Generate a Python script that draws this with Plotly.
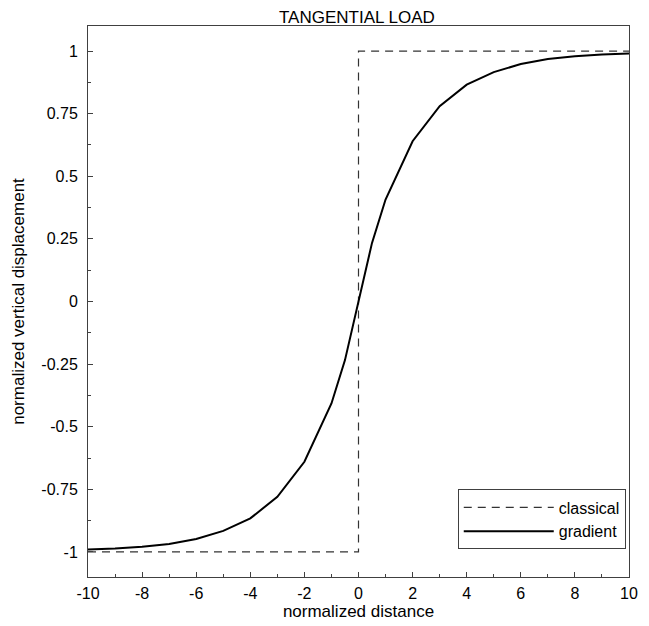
import plotly.graph_objects as go

# classical solution (step)
classical_x = [-10, 0, 0, 10]
classical_y = [-1, -1, 1, 1]

# gradient solution
gradient_x = [-10, -9, -8, -7, -6, -5, -4, -3, -2, -1, -0.5, -0.25, 0,
              0.25, 0.5, 1, 2, 3, 4, 5, 6, 7, 8, 9, 10]
gradient_y = [-0.990, -0.986, -0.979, -0.968, -0.948, -0.916, -0.866, -0.780, -0.640, -0.407, -0.234, -0.120, 0.0,
              0.120, 0.234, 0.407, 0.640, 0.780, 0.866, 0.916, 0.948, 0.968, 0.979, 0.986, 0.990]

x_ticks = [-10, -8, -6, -4, -2, 0, 2, 4, 6, 8, 10]
x_tick_text = ["-10", "-8", "-6", "-4", "-2", "0", "2", "4", "6", "8", "10"]
y_ticks = [-1, -0.75, -0.5, -0.25, 0, 0.25, 0.5, 0.75, 1]
y_tick_text = ["-1", "-0.75", "-0.5", "-0.25", "0", "0.25", "0.5", "0.75", "1"]

FONT = "Liberation Sans, Arial, sans-serif"
AX = "#404040"

fig = go.Figure()
fig.add_trace(go.Scatter(x=classical_x, y=classical_y, mode="lines", name="classical",
                         line=dict(color="#333333", width=1.2, dash="8px,6px")))
fig.add_trace(go.Scatter(x=gradient_x, y=gradient_y, mode="lines", name="gradient",
                         line=dict(color="black", width=2)))

fig.update_layout(
    width=649, height=626,
    margin=dict(l=88, r=11, t=26, b=49),
    paper_bgcolor="white", plot_bgcolor="white",
    font=dict(family=FONT, size=16, color="black"),
    title=dict(text="TANGENTIAL LOAD", x=0.55, xanchor="center", y=1 - 17 / 626, yanchor="middle",
               font=dict(family=FONT, size=17, color="black")),
    showlegend=True,
    legend=dict(x=0.994, y=0.05, xanchor="right", yanchor="bottom",
                bordercolor=AX, borderwidth=1, bgcolor="white",
                itemwidth=90, font=dict(size=16), tracegroupgap=0),
    xaxis=dict(range=[-10, 10], tickvals=x_ticks, ticktext=x_tick_text, ticks="inside", ticklen=5, tickcolor=AX,
               showline=True, linecolor=AX, linewidth=1, mirror=True, showgrid=False, zeroline=False,
               minor=dict(ticks="inside", ticklen=3, dtick=1, tickcolor=AX, showgrid=False),
               title=dict(text="normalized distance", standoff=0, font=dict(size=17)),
               tickfont=dict(size=16), ticklabelstandoff=2),
    yaxis=dict(range=[-1.1, 1.1], tickvals=y_ticks, ticktext=y_tick_text, ticks="inside", ticklen=5,
               tickcolor=AX, showline=True, linecolor=AX, linewidth=1, mirror=True, showgrid=False,
               zeroline=False,
               minor=dict(ticks="inside", ticklen=3, tickvals=[-0.875, -0.625, -0.375, -0.125, 0.125, 0.375, 0.625, 0.875],
                          tickcolor=AX, showgrid=False),
               title=dict(text="normalized vertical displacement", standoff=12, font=dict(size=17)),
               tickfont=dict(size=16), ticklabelstandoff=6),
)

fig.write_html("out.html")
